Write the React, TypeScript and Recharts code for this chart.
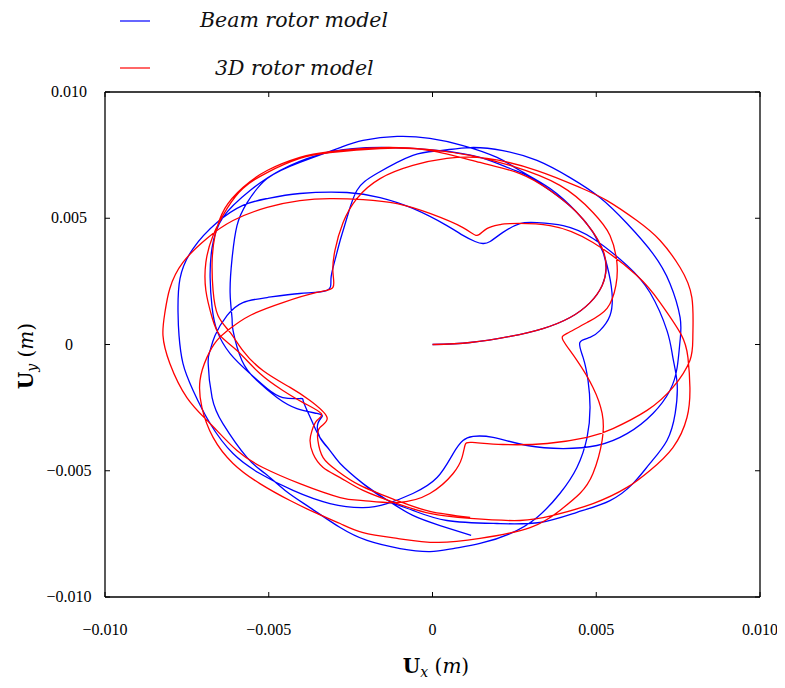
import React from 'react';
import { LineChart, Line, XAxis, YAxis, ReferenceLine } from 'recharts';

// Beam rotor model orbit (Ux, Uy) in metres, in time order
const beamPoints: [number, number][] = [
  [0, 0], [0.00115, 0.00008], [0.00237, 0.00032], [0.00337, 0.00063], [0.0042, 0.00107],
  [0.00481, 0.00166], [0.00518, 0.00234], [0.0053, 0.00301], [0.00521, 0.00364], [0.0049, 0.00444],
  [0.00441, 0.00523], [0.00368, 0.00602], [0.00289, 0.00669], [0.00237, 0.00697], [0.00145, 0.00741],
  [0.00023, 0.00768], [-0.00121, 0.0078], [-0.00243, 0.00776], [-0.00353, 0.00749], [-0.00466, 0.00689],
  [-0.00557, 0.0061], [-0.0064, 0.00503], [-0.00673, 0.00384], [-0.00679, 0.00265], [-0.00673, 0.00147],
  [-0.00658, 0.00055], [-0.00618, -0.00036], [-0.00557, -0.00115], [-0.00505, -0.00174], [-0.00457, -0.0021],
  [-0.00405, -0.00214], [-0.00395, -0.00222], [-0.00383, -0.00261], [-0.00365, -0.00313], [-0.00344, -0.00368],
  [-0.00313, -0.0042], [-0.00282, -0.00471], [-0.00212, -0.00551], [-0.00136, -0.00618], [-0.0006, -0.00657],
  [0.00044, -0.00697], [0.00197, -0.00709], [0.00328, -0.00705], [0.00441, -0.00665], [0.00542, -0.00618],
  [0.00612, -0.00551], [0.00664, -0.00471], [0.00716, -0.0038], [0.00741, -0.00273], [0.00747, -0.00155],
  [0.00734, -0.00052], [0.00716, 0.00055], [0.00664, 0.00206], [0.00594, 0.00313], [0.0049, 0.0042],
  [0.00399, 0.00471], [0.00319, 0.00483], [0.00267, 0.00479], [0.00215, 0.00444], [0.00176, 0.00408],
  [0.00154, 0.004], [0.0013, 0.00408], [0.00093, 0.00432], [0.00044, 0.00471], [-0.0006, 0.00539],
  [-0.0016, 0.00582], [-0.00261, 0.00602], [-0.00405, 0.00598], [-0.00505, 0.00578], [-0.00579, 0.00551],
  [-0.00658, 0.00483], [-0.00731, 0.0038], [-0.00771, 0.00261], [-0.00777, 0.00127], [-0.00774, 0.00036],
  [-0.00762, -0.00075], [-0.00731, -0.00182], [-0.00679, -0.00313], [-0.00609, -0.00432], [-0.00527, -0.00511],
  [-0.00426, -0.00578], [-0.00313, -0.0063], [-0.00212, -0.00646], [-0.00139, -0.0063], [-0.0006, -0.0059],
  [0.00014, -0.00527], [0.00063, -0.00432], [0.00093, -0.0038], [0.00124, -0.00364], [0.00185, -0.00368],
  [0.00289, -0.004], [0.00399, -0.00412], [0.00502, -0.004], [0.00594, -0.00353], [0.00673, -0.00273],
  [0.00725, -0.00182], [0.00747, -0.00091], [0.00756, 0.00016], [0.00756, 0.00107], [0.00725, 0.00242],
  [0.00673, 0.0036], [0.00594, 0.00479], [0.00511, 0.00582], [0.0042, 0.00661], [0.00319, 0.00729],
  [0.00215, 0.00768], [0.00115, 0.0078], [0.00023, 0.00768], [-0.0006, 0.00749], [-0.0017, 0.00677],
  [-0.00231, 0.0061], [-0.00261, 0.00503], [-0.00282, 0.00412], [-0.00298, 0.00333], [-0.0031, 0.00261],
  [-0.00322, 0.00214], [-0.00405, 0.00202], [-0.00505, 0.00186], [-0.00579, 0.00166], [-0.00627, 0.00115],
  [-0.00664, 0.00036], [-0.00679, -0.00024], [-0.00685, -0.00075], [-0.00673, -0.0021], [-0.0064, -0.00313],
  [-0.00566, -0.00448], [-0.00511, -0.00511], [-0.0045, -0.00578], [-0.00374, -0.00646], [-0.00282, -0.00725],
  [-0.002, -0.00776], [-0.00099, -0.00808], [-0.00008, -0.0082], [0.00063, -0.00808], [0.00145, -0.00788],
  [0.00237, -0.00749], [0.00319, -0.00685], [0.00389, -0.0059], [0.00441, -0.00487], [0.00472, -0.00368],
  [0.00481, -0.0025], [0.00475, -0.00143], [0.0046, -0.00052], [0.0045, 0.00008], [0.00481, 0.00028],
  [0.00511, 0.00055], [0.00542, 0.00115], [0.00548, 0.00206], [0.00533, 0.00313], [0.00502, 0.0042],
  [0.00441, 0.00523], [0.00359, 0.00618], [0.00267, 0.00689], [0.00197, 0.00741], [0.00093, 0.00788],
  [-0.00008, 0.00816], [-0.00108, 0.00824], [-0.00212, 0.00808], [-0.00282, 0.0078], [-0.00405, 0.00721],
  [-0.00505, 0.00657], [-0.00566, 0.00562], [-0.00597, 0.00471], [-0.00612, 0.00341], [-0.00618, 0.00206],
  [-0.00612, 0.00103], [-0.00609, 0.00055], [-0.00582, -0.00063], [-0.00536, -0.00143], [-0.00475, -0.0021],
  [-0.00414, -0.00254], [-0.00353, -0.00273], [-0.00337, -0.00285], [-0.0035, -0.00313], [-0.00344, -0.00368],
  [-0.00313, -0.0042], [-0.00282, -0.00471], [-0.00212, -0.00551], [-0.00136, -0.00618], [-0.0006, -0.00677],
  [0.00023, -0.00717], [0.00118, -0.00756],
];

// 3D rotor model orbit (Ux, Uy) in metres, in time order
const solidPoints: [number, number][] = [
  [0, 0], [0.00115, 0.00008], [0.00237, 0.00032], [0.00337, 0.00063], [0.0042, 0.00107],
  [0.00481, 0.00166], [0.00518, 0.00234], [0.0053, 0.00301], [0.00521, 0.00372], [0.00487, 0.00451],
  [0.00435, 0.00531], [0.00359, 0.0061], [0.00267, 0.00677], [0.00145, 0.00721], [-0.00008, 0.00768],
  [-0.0016, 0.00776], [-0.00313, 0.0076], [-0.00405, 0.00737], [-0.00505, 0.00681], [-0.00579, 0.00618],
  [-0.00627, 0.00539], [-0.0067, 0.00432], [-0.00692, 0.00325], [-0.00692, 0.00214], [-0.00673, 0.00107],
  [-0.00649, 0.00036], [-0.00597, -0.00024], [-0.00527, -0.00115], [-0.00457, -0.00182], [-0.00395, -0.0023],
  [-0.0034, -0.00273], [-0.00353, -0.00301], [-0.00368, -0.00341], [-0.00374, -0.0038], [-0.00365, -0.00432],
  [-0.00334, -0.00487], [-0.00282, -0.00527], [-0.00212, -0.00578], [-0.00108, -0.0063], [-0.00008, -0.00669],
  [0.00115, -0.00689], [0.00267, -0.00697], [0.00368, -0.00677], [0.0049, -0.0063], [0.00594, -0.00566],
  [0.00664, -0.00499], [0.00734, -0.00408], [0.00777, -0.00289], [0.00786, -0.0017], [0.0078, -0.00052],
  [0.00759, 0.0004], [0.00695, 0.00166], [0.00624, 0.00273], [0.0049, 0.00404], [0.00359, 0.00471],
  [0.00237, 0.00479], [0.00206, 0.00475], [0.00166, 0.00459], [0.00136, 0.00432], [0.00093, 0.00463],
  [-0.00008, 0.00519], [-0.00108, 0.00558], [-0.00212, 0.00574], [-0.00313, 0.00578], [-0.00405, 0.0057],
  [-0.00505, 0.00543], [-0.00609, 0.00491], [-0.00689, 0.0042], [-0.00762, 0.00325], [-0.00802, 0.00222],
  [-0.00817, 0.00127], [-0.00823, 0.00036], [-0.00802, -0.00075], [-0.0075, -0.0021], [-0.00679, -0.00313],
  [-0.00597, -0.0042], [-0.00518, -0.00487], [-0.00405, -0.00551], [-0.00282, -0.00606], [-0.00212, -0.00618],
  [-0.00108, -0.00626], [-0.00008, -0.0059], [0.00063, -0.00511], [0.0009, -0.00448], [0.00099, -0.004],
  [0.00121, -0.00388], [0.00215, -0.00396], [0.0035, -0.00392], [0.00472, -0.00368], [0.00551, -0.00333],
  [0.00655, -0.00261], [0.00734, -0.0017], [0.00786, -0.00063], [0.00795, 0.00036], [0.00792, 0.00186],
  [0.00756, 0.00305], [0.00695, 0.00412], [0.00624, 0.00491], [0.00533, 0.0057], [0.0045, 0.00622],
  [0.00319, 0.00689], [0.00166, 0.00737], [0.00044, 0.00737], [-0.0006, 0.00709], [-0.0016, 0.00657],
  [-0.00231, 0.00578], [-0.00273, 0.00483], [-0.00298, 0.00372], [-0.00304, 0.00285], [-0.00304, 0.00226],
  [-0.00353, 0.00206], [-0.00457, 0.00166], [-0.00557, 0.00115], [-0.00618, 0.00063], [-0.00658, 0.00016],
  [-0.00689, -0.00052], [-0.0071, -0.00143], [-0.00704, -0.0025], [-0.0067, -0.00368], [-0.00609, -0.00471],
  [-0.00527, -0.00551], [-0.00435, -0.00618], [-0.00353, -0.00669], [-0.00282, -0.00709], [-0.00212, -0.00745],
  [-0.00108, -0.00768], [0.00014, -0.00784], [0.00145, -0.00768], [0.00298, -0.00725], [0.00389, -0.00657],
  [0.0045, -0.0059], [0.0049, -0.00511], [0.00518, -0.0038], [0.00518, -0.00273], [0.0049, -0.0017],
  [0.00441, -0.00063], [0.00399, 0.00016], [0.00411, 0.00044], [0.00472, 0.00087], [0.00533, 0.00143],
  [0.0056, 0.00234], [0.00563, 0.00325], [0.00542, 0.00432], [0.0049, 0.00523], [0.00389, 0.0063],
  [0.00237, 0.00709], [0.00115, 0.00749], [-0.00008, 0.00772], [-0.0016, 0.0078], [-0.00313, 0.00764],
  [-0.00405, 0.00741], [-0.00505, 0.00689], [-0.00579, 0.00622], [-0.00634, 0.00539], [-0.00664, 0.00432],
  [-0.00673, 0.00325], [-0.0067, 0.00214], [-0.00655, 0.00115], [-0.00618, 0.00048], [-0.00579, -0.00024],
  [-0.00518, -0.00103], [-0.00435, -0.0017], [-0.00374, -0.00222], [-0.00322, -0.00289], [-0.00344, -0.00329],
  [-0.0035, -0.0038], [-0.00334, -0.00448], [-0.00292, -0.00499], [-0.00221, -0.00558], [-0.00108, -0.00618],
  [-0.00008, -0.00661], [0.00115, -0.00685],
];

const xTicks = [-0.01, -0.005, 0, 0.005, 0.01];
const yTicks = [-0.01, -0.005, 0, 0.005, 0.01];
const xTickLabels = ['\u22120.010', '\u22120.005', '0', '0.005', '0.010'];
const yTickLabels = ['\u22120.010', '\u22120.005', '0', '0.005', '0.010'];
const seriesNames = ['Beam rotor model', '3D rotor model'];
const seriesColors = ['#0000ff', '#ff0000'];

const beamData = beamPoints.map(([x, y]) => ({ x, y }));
const solidData = solidPoints.map(([x, y]) => ({ x, y }));

const W = 769;
const H = 672;
const PL = 97;
const PR = 752;
const PT = 84;
const PB = 589;
const TICK = 5;
const tickFont = 'Liberation Serif, Times New Roman, serif';
const labelFont = 'DejaVu Serif, serif';

const XTick = (props: any) => {
  const { x, payload } = props;
  const i = xTicks.indexOf(payload.value);
  return (
    <g>
      <line x1={x} x2={x} y1={PB} y2={PB - TICK} stroke="#000" strokeWidth={1} />
      <line x1={x} x2={x} y1={PT} y2={PT + TICK} stroke="#000" strokeWidth={1} />
      <text x={x} y={PB + 38} textAnchor="middle" fontFamily={tickFont} fontSize={16} fill="#000">
        {xTickLabels[i]}
      </text>
    </g>
  );
};

const YTick = (props: any) => {
  const { y, payload } = props;
  const i = yTicks.indexOf(payload.value);
  return (
    <g>
      <line x1={PL} x2={PL + TICK} y1={y} y2={y} stroke="#000" strokeWidth={1} />
      <line x1={PR} x2={PR - TICK} y1={y} y2={y} stroke="#000" strokeWidth={1} />
      <text x={61} y={y + 5} textAnchor="middle" fontFamily={tickFont} fontSize={16} fill="#000">
        {yTickLabels[i]}
      </text>
    </g>
  );
};

export default function App() {
  return (
    <div style={{ position: 'relative', width: W, height: H, background: '#fff' }}>
      <LineChart
        width={W}
        height={H}
        margin={{ top: PT, right: W - PR, bottom: H - PB - 40, left: PL - 60 }}
      >
        <XAxis
          type="number"
          dataKey="x"
          domain={[-0.01, 0.01]}
          ticks={xTicks}
          interval={0}
          allowDataOverflow
          height={40}
          axisLine={false}
          tickLine={false}
          tick={XTick}
        />
        <YAxis
          type="number"
          dataKey="y"
          domain={[-0.01, 0.01]}
          ticks={yTicks}
          interval={0}
          allowDataOverflow
          width={60}
          axisLine={false}
          tickLine={false}
          tick={YTick}
        />
        <ReferenceLine x={-0.01} stroke="#000" strokeWidth={1.3} />
        <ReferenceLine x={0.01} stroke="#000" strokeWidth={1.3} />
        <ReferenceLine y={-0.01} stroke="#000" strokeWidth={1.3} />
        <ReferenceLine y={0.01} stroke="#000" strokeWidth={1.3} />
        <Line
          data={beamData}
          dataKey="y"
          name={seriesNames[0]}
          type="natural"
          stroke={seriesColors[0]}
          strokeWidth={1.3}
          dot={false}
          activeDot={false}
          isAnimationActive={false}
        />
        <Line
          data={solidData}
          dataKey="y"
          name={seriesNames[1]}
          type="natural"
          stroke={seriesColors[1]}
          strokeWidth={1.3}
          dot={false}
          activeDot={false}
          isAnimationActive={false}
        />
      </LineChart>
      <svg
        width={W}
        height={H}
        style={{ position: 'absolute', left: 0, top: 0, pointerEvents: 'none' }}
      >
        <line x1={112} x2={142} y1={13} y2={13} stroke={seriesColors[0]} strokeWidth={1.2} />
        <text x={192} y={19} fontFamily={labelFont} fontStyle="italic" fontSize={20.5} fill="#111">
          {seriesNames[0]}
        </text>
        <line x1={112} x2={142} y1={60} y2={60} stroke={seriesColors[1]} strokeWidth={1.2} />
        <text x={207} y={67} fontFamily={labelFont} fontStyle="italic" fontSize={20.5} fill="#111">
          {seriesNames[1]}
        </text>
        <text x={428} y={665} textAnchor="middle" fontFamily={labelFont} fontSize={20} fill="#000">
          <tspan fontWeight="bold">U</tspan>
          <tspan fontStyle="italic" fontSize={14} dy={4}>x</tspan>
          <tspan dy={-4}> (</tspan>
          <tspan fontStyle="italic">m</tspan>
          <tspan>)</tspan>
        </text>
        <text
          x={25}
          y={348}
          textAnchor="middle"
          fontFamily={labelFont}
          fontSize={20}
          fill="#000"
          transform="rotate(-90 25 348)"
        >
          <tspan fontWeight="bold">U</tspan>
          <tspan fontStyle="italic" fontSize={14} dy={4}>y</tspan>
          <tspan dy={-4}> (</tspan>
          <tspan fontStyle="italic">m</tspan>
          <tspan>)</tspan>
        </text>
      </svg>
    </div>
  );
}
